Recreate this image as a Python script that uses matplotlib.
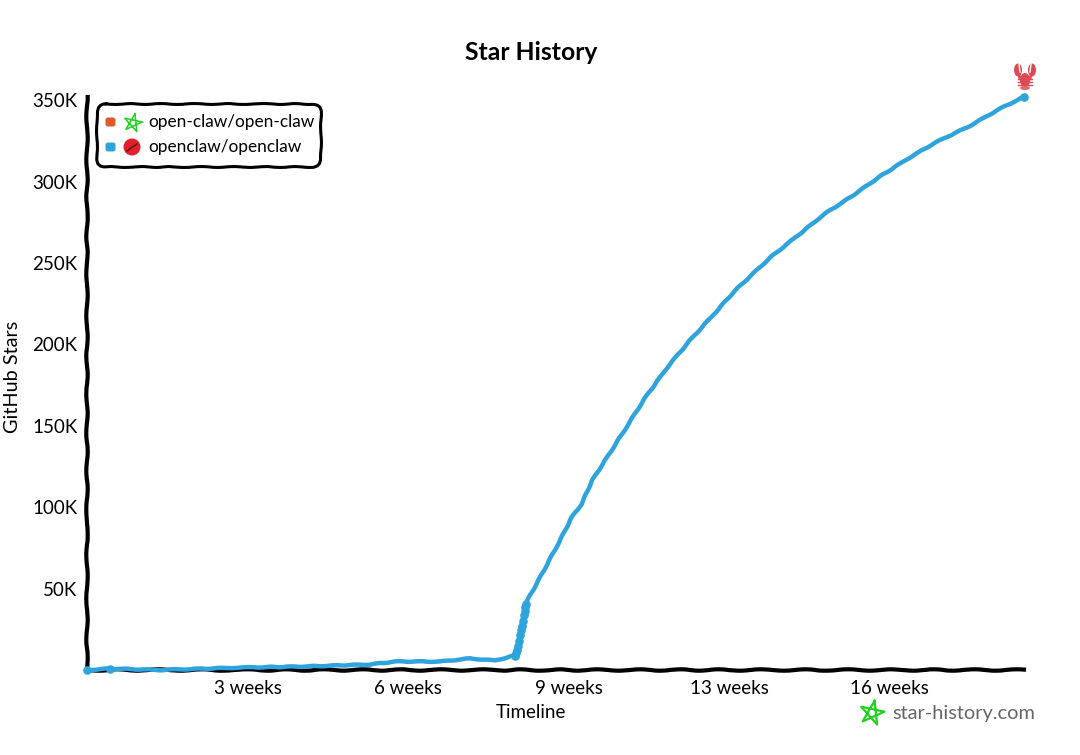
import matplotlib
matplotlib.use("Agg")
import matplotlib.pyplot as plt
import numpy as np
from matplotlib.patches import FancyBboxPatch, Ellipse, Circle

# data
days = [0, 3.15, 10, 21, 29.2, 38.8, 42.2, 48.4, 52.5, 55.9, 58.6, 58.9, 59.2, 59.5, 59.7,
        60, 60.1, 62, 64.8, 66.4, 67.8, 69.2, 71.6, 73.8, 76.4, 79.6, 82.6, 85.6, 88.8,
        93.6, 97.7, 101.1, 104.5, 108.6, 112.7, 116.2, 121, 125.1, 128.4]
stars = [0, 900, 0, 1500, 2100, 3400, 5200, 5200, 7100, 5800, 8900, 12000, 18100, 24300, 30400,
         36500, 40800, 56200, 79500, 93600, 102200, 116300, 133000, 148300, 166700, 186400,
         202400, 217100, 233100, 253300, 268000, 280300, 290100, 303000, 314700, 323900,
         334300, 344800, 352200]
dot_days = [0, 3.15, 58.6, 58.8, 58.9, 59.05, 59.2, 59.35, 59.5, 59.6, 59.7, 59.85, 60, 60.05, 60.1, 128.4]
dot_stars = [0, 900, 8900, 10400, 12000, 15000, 18100, 21200, 24300, 27300, 30400, 33500, 36500, 38600, 40800, 352200]
x_ticks = [22, 44, 66, 88, 110]
x_labels = ["3 weeks", "6 weeks", "9 weeks", "13 weeks", "16 weeks"]
y_ticks = [50000, 100000, 150000, 200000, 250000, 300000, 350000]
y_labels = ["50K", "100K", "150K", "200K", "250K", "300K", "350K"]
repos = ["open-claw/open-claw", "openclaw/openclaw"]
repo_colors = ["#dc5a30", "#2ea3dc"]

BLUE = "#2ea3dc"
GREEN = "#22d022"

plt.rcParams["font.family"] = ["Lato", "DejaVu Sans"]

fig = plt.figure(figsize=(10.8, 7.55), dpi=100)
ax = fig.add_axes([87 / 1080, 1 - 670 / 755, (1024 - 87) / 1080, (670 - 97) / 755])
line, = ax.plot(days, stars, color=BLUE, lw=3.2, solid_capstyle="round", clip_on=False, zorder=5)
line.set_sketch_params(0.35, 25, 2)
ax.plot(dot_days, dot_stars, "o", color=BLUE, ms=6.2, mew=0, clip_on=False, zorder=6)
ax.set_xlim(0, 128.4)
ax.set_ylim(0, 352000)
ax.set_xticks(x_ticks)
ax.set_xticklabels(x_labels, fontsize=13.5)
ax.set_yticks(y_ticks)
ax.set_yticklabels(y_labels, fontsize=13.5)
ax.tick_params(length=0, pad=7)
for s in ["top", "right"]:
    ax.spines[s].set_visible(False)
for s in ["left", "bottom"]:
    ax.spines[s].set_linewidth(3)
    ax.spines[s].set_sketch_params(0.7, 45, 2)

# overlay in pixel coordinates for title, legend box, logo
ov = fig.add_axes([0, 0, 1, 1], facecolor="none")
ov.set_xlim(0, 1080)
ov.set_ylim(755, 0)
ov.axis("off")
ov.text(531, 53, "Star History", ha="center", va="center", fontsize=17.8, fontweight="bold")
ov.text(531, 712, "Timeline", ha="center", va="center", fontsize=13.5)
ov.text(13, 377, "GitHub Stars", ha="center", va="center", rotation=90, fontsize=14.3)


def pentagram(x, y, r, lw):
    ang = np.deg2rad(-90 + 144 * np.arange(6) + 12)
    ov.plot(x + r * np.cos(ang), y + r * np.sin(ang), color=GREEN, lw=lw, solid_joinstyle="round")


box = FancyBboxPatch((102, 109), 214, 53, boxstyle="round,pad=5,rounding_size=9", fc="white", ec="black", lw=2.2)
box.set_sketch_params(0.45, 35, 2)
ov.add_patch(box)
for i, (repo, col) in enumerate(zip(repos, repo_colors)):
    yy = 122 + 25 * i
    ov.add_patch(FancyBboxPatch((107, yy - 3), 7, 6, boxstyle="round,pad=1.5,rounding_size=2.5", fc=col, ec="none"))
    ov.text(148, yy, repo, va="center", ha="left", fontsize=12.4)
pentagram(133, 123, 9.5, 1.1)
ov.add_patch(Circle((132, 147), 8.5, fc="#e0202c", ec="none"))
ov.plot([127, 131, 137], [151, 148, 144], color="#5a1015", lw=1)

# watermark
pentagram(872, 713, 12.5, 1.6)
ov.text(892, 713, "star-history.com", va="center", ha="left", fontsize=14.4, color="#666666")

# lobster above the last point
RED = "#dd4a55"
ov.plot([1019, 1020, 1025], [75, 79, 80], color=RED, lw=2)
ov.plot([1031, 1030, 1025], [75, 79, 80], color=RED, lw=2)
ov.add_patch(Ellipse((1018, 70), 8, 13, fc=RED, ec="none"))
ov.add_patch(Ellipse((1032, 70), 8, 13, fc=RED, ec="none"))
ov.plot([1019, 1020], [64, 72], color="white", lw=1)
ov.plot([1031, 1030], [64, 72], color="white", lw=1)
ov.add_patch(Ellipse((1025, 80), 10, 14, fc=RED, ec="none"))
for k in [79, 82, 85]:
    ov.plot([1018, 1032], [k, k], color=RED, lw=1)
ov.add_patch(Ellipse((1025, 88), 10, 4, fc="#e06a70", ec="none"))

fig.savefig("out.png", dpi=100)
